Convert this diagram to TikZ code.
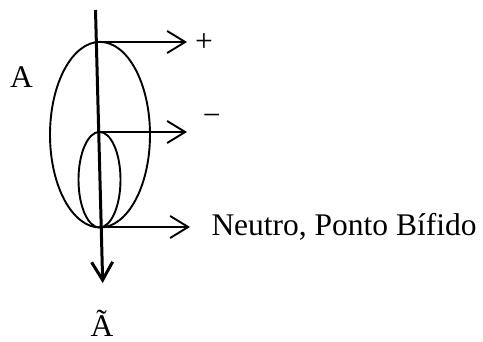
\documentclass[tikz,border=0pt]{standalone}
\usepackage{fontspec}
\setmainfont{Liberation Serif}
\usetikzlibrary{arrows.meta}
\tikzset{
  lbl/.style={inner sep=0pt, font=\fontsize{31.5}{36}\selectfont},
  thin line/.style={line width=1.9pt},
  harrow/.style={line width=1.9pt, -{Straight Barb[length=18pt,width=22pt,line width=1.9pt]}},
  axisarrow/.style={line width=3pt, -{Straight Barb[length=18pt,width=21pt,line width=3pt]}}
}
\begin{document}
\begin{tikzpicture}[x=1pt,y=-1pt]
\useasboundingbox (0,0) rectangle (483,342);
% axis
\coordinate (top) at (95.5,10);
\coordinate (bot) at (102.7,283);
\coordinate (p1) at (96.3,42);
\coordinate (p2) at (98.7,132);
\coordinate (p3) at (100.8,227);
\coordinate (t1) at (187,42);
\coordinate (t2) at (187,132);
\coordinate (t3) at (190,227);
% ellipses
\draw[thin line] (100,134.7) ellipse [x radius=50, y radius=92.8];
\draw[thin line] (99.5,179.7) ellipse [x radius=21, y radius=47.8];
\draw[axisarrow] (top) -- (bot);
\draw[harrow] (p1) -- (t1);
\draw[harrow] (p2) -- (t2);
\draw[harrow] (p3) -- (t3);
% labels
\node[lbl, anchor=base west] (A) at (10,87.7) {A};
\node[lbl, anchor=base] (plus) at (204,51.3) {+};
\node[lbl, anchor=base] (minus) at (211.7,125.3) {−};
\node[lbl, anchor=base west] (neutro) at (211.3,235.5) {Neutro, Ponto Bífido};
\node[lbl, anchor=base] (At) at (102,336.5) {Ã};
\end{tikzpicture}
\end{document}
